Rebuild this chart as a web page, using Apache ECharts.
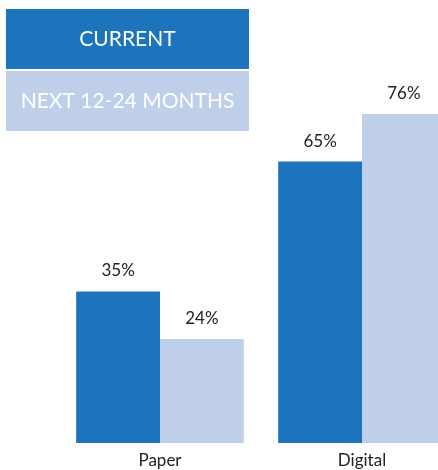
<!DOCTYPE html>
<html>
<head>
<meta charset="utf-8">
<script src="https://cdn.jsdelivr.net/npm/echarts@6/dist/echarts.min.js"></script>
<style>
  html, body { margin: 0; padding: 0; background: #fff; }
  #chart { width: 438px; height: 470px; }
</style>
</head>
<body>
<div id="chart"></div>
<script>
var categories = ['Paper', 'Digital'];
var seriesNames = ['CURRENT', 'NEXT 12-24 MONTHS'];
var currentValues = [35, 65];
var nextValues = [24, 76];

var colors = ['#1c75bc', '#bfcfe9'];

var chart = echarts.init(document.getElementById('chart'));

var labelStyle = {
    show: true,
    position: 'top',
    distance: 12,
    formatter: '{c}%',
    fontFamily: 'Lato',
    fontSize: 17,
    color: '#222'
};

// legend drawn as two stacked boxes
var legendBoxes = seriesNames.map(function (name, i) {
    return {
        type: 'group',
        left: 6,
        top: 9 + i * 62,
        children: [
            { type: 'rect', shape: { x: 0, y: 0, width: 243, height: 60 }, style: { fill: colors[i] } },
            {
                type: 'text',
                x: 121.5, y: 30,
                style: {
                    text: name, fill: '#fff', fontFamily: 'Lato', fontSize: 21,
                    align: 'center', verticalAlign: 'middle'
                }
            }
        ]
    };
});

chart.setOption({
    animation: false,
    grid: { left: 59, width: 404, top: 10, bottom: 27, outerBoundsMode: 'none' },
    xAxis: {
        type: 'category',
        data: categories,
        axisLine: { show: false },
        axisTick: { show: false },
        axisLabel: { fontFamily: 'Lato', fontSize: 17, color: '#222', margin: 9 }
    },
    yAxis: {
        type: 'value',
        min: 0, max: 100,
        show: false
    },
    series: [
        {
            name: seriesNames[0], type: 'bar', data: currentValues,
            barGap: '0%', barCategoryGap: '17%',
            itemStyle: { color: colors[0] }, label: labelStyle
        },
        {
            name: seriesNames[1], type: 'bar', data: nextValues,
            itemStyle: { color: colors[1] }, label: labelStyle
        }
    ],
    graphic: legendBoxes
});
</script>
</body>
</html>
